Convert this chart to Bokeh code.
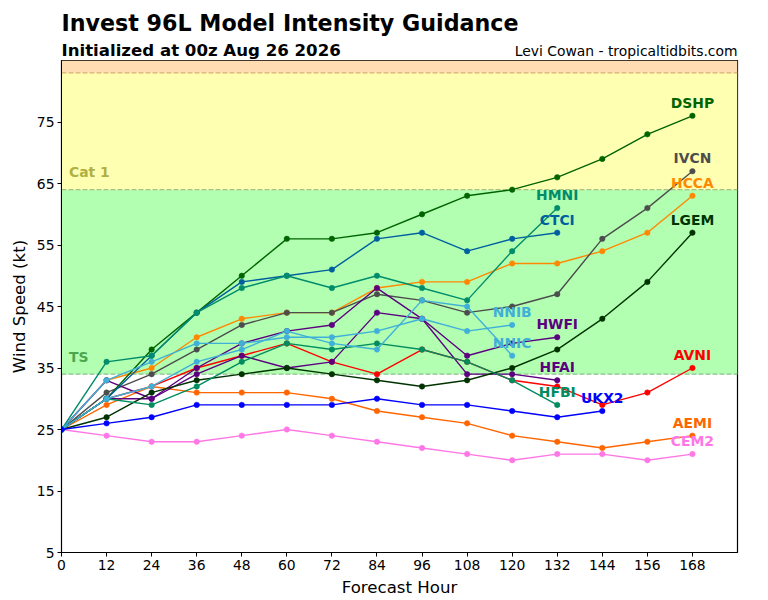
from bokeh.plotting import figure
from bokeh.layouts import column
from bokeh.models import Label, BoxAnnotation, Span, FixedTicker, Range1d
from bokeh.core.properties import value
from bokeh.embed import file_html
from bokeh.resources import INLINE

hours = [0, 12, 24, 36, 48, 60, 72, 84, 96, 108, 120, 132, 144, 156, 168]
AVNI = [25, 30, 32, 35, 37, 39, 36, 34, 38, 36, 33, 32, 29, 31, 35]
CEM2 = [25, 24, 23, 23, 24, 25, 24, 23, 22, 21, 20, 21, 21, 20, 21]
AEMI = [25, 29, 32, 31, 31, 31, 30, 28, 27, 26, 24, 23, 22, 23, 24]
HCCA = [25, 33, 35, 40, 43, 44, 44, 48, 49, 49, 52, 52, 54, 57, 63]
IVCN = [25, 31, 34, 38, 42, 44, 44, 47, 46, 44, 45, 47, 56, 61, 67]
HWFI = [25, 33, 30, 35, 39, 41, 42, 48, 43, 37, 39, 40]
HFAI = [25, 30, 30, 34, 37, 35, 36, 44, 43, 34, 34, 33]
LGEM = [25, 27, 31, 33, 34, 35, 34, 33, 32, 33, 35, 38, 43, 49, 57]
DSHP = [25, 30, 38, 44, 50, 56, 56, 57, 60, 63, 64, 66, 69, 73, 76]
CTCI = [25, 30, 37, 44, 49, 50, 51, 56, 57, 54, 56, 57]
HMNI = [25, 36, 37, 44, 48, 50, 48, 50, 48, 46, 54, 61]
HFBI = [25, 30, 29, 32, 36, 39, 38, 39, 38, 36, 33, 29]
NNIB = [25, 33, 36, 39, 39, 40, 40, 41, 43, 41, 42]
NNIC = [25, 30, 32, 36, 38, 41, 39, 38, 46, 45, 37]
UKX2 = [25, 26, 27, 29, 29, 29, 29, 30, 29, 29, 28, 27, 28]

models = [
    ("AVNI", AVNI, "#ff0000"), ("CEM2", CEM2, "#ff77e6"), ("AEMI", AEMI, "#ff6600"),
    ("HCCA", HCCA, "#ff8800"), ("IVCN", IVCN, "#4d4d4d"), ("HWFI", HWFI, "#5c0080"),
    ("HFAI", HFAI, "#5c0080"), ("LGEM", LGEM, "#003300"), ("DSHP", DSHP, "#006400"),
    ("CTCI", CTCI, "#005f9f"), ("HMNI", HMNI, "#008c6a"), ("HFBI", HFBI, "#008c5f"),
    ("NNIB", NNIB, "#40b0d8"), ("NNIC", NNIC, "#40b0d8"), ("UKX2", UKX2, "#0000ff"),
]

x_ticks = hours
y_ticks = [5, 15, 25, 35, 45, 55, 65, 75]
FONT = "DejaVu Sans"

head = figure(frame_width=676, frame_height=60, output_backend="svg", toolbar_location=None, title=None,
              x_range=Range1d(61, 737), y_range=Range1d(60, 0), x_axis_location=None, y_axis_location=None,
              min_border_left=61, min_border_right=23, min_border_top=0, min_border_bottom=0)
head.grid.visible = False
head.outline_line_color = None

def add_head(txt, sx, sy, size, bold, align="left"):
    head.text([sx], [sy], text=[txt], text_font=value(FONT), text_font_size=size,
              text_font_style="bold" if bold else "normal", text_color="black",
              text_align=align, text_baseline="middle")

add_head("Invest 96L Model Intensity Guidance", 61, 22, "22.2px", True)
add_head("Initialized at 00z Aug 26 2026", 61, 49.7, "16.6px", True)
add_head("Levi Cowan - tropicaltidbits.com", 737, 50.6, "13.9px", False, "right")

p = figure(frame_width=676, frame_height=492, output_backend="svg", toolbar_location=None, title=None,
           x_range=Range1d(0, 180), y_range=Range1d(5, 85),
           min_border_left=61, min_border_right=23, min_border_top=0, min_border_bottom=47)
p.grid.visible = False
p.outline_line_color = "black"
p.outline_line_width = 1.2

p.add_layout(BoxAnnotation(bottom=34, top=64, fill_color="#b2ffb2", fill_alpha=1, line_alpha=0, level="underlay"))
p.add_layout(BoxAnnotation(bottom=64, top=83, fill_color="#ffffb2", fill_alpha=1, line_alpha=0, level="underlay"))
p.add_layout(BoxAnnotation(bottom=83, top=85, fill_color="#ffdcb2", fill_alpha=1, line_alpha=0, level="underlay"))
for lvl, col in [(34, "#8fbf8f"), (64, "#a8c080"), (83, "#d8b070")]:
    p.add_layout(Span(location=lvl, dimension="width", line_color=col, line_width=1.2,
                      line_dash=[5, 2], level="underlay"))

for axis, ticks, lab in [(p.xaxis, x_ticks, "Forecast Hour"), (p.yaxis, y_ticks, "Wind Speed (kt)")]:
    axis.ticker = FixedTicker(ticks=ticks)
    axis.axis_label = lab
    axis.axis_label_text_font = FONT
    axis.axis_label_text_font_size = "16.6px"
    axis.axis_label_text_font_style = "normal"
    axis.axis_label_text_color = "black"
    axis.major_label_text_font = FONT
    axis.major_label_text_font_size = "13.9px"
    axis.major_label_text_color = "black"
    axis.major_tick_in = 0
    axis.major_tick_out = 4
    axis.minor_tick_line_color = None
    axis.axis_line_color = "black"
    axis.major_tick_line_color = "black"
p.xaxis.axis_label_standoff = 5
p.yaxis.axis_label_standoff = 5
p.xaxis.major_label_standoff = 3
p.yaxis.major_label_standoff = 3

for name, vals, col in models:
    xs = hours[:len(vals)]
    p.line(xs, vals, line_color=col, line_width=1.4)
    p.scatter(xs, vals, size=5.5, fill_color=col, line_color=col, line_width=0.5)

for name, vals, col in models:
    p.text([hours[len(vals) - 1]], [vals[-1]], text=[name], text_color=col, text_font=value(FONT),
           text_font_size="13.9px", text_font_style="bold", text_align="center",
           text_baseline="middle", y_offset=-13)

for txt, xv, yv, col in [("TS", 2, 36.8, "#4ca64c"), ("Cat 1", 2, 66.8, "#b0b040")]:
    p.add_layout(Label(x=xv, y=yv, text=txt, text_color=col, text_font=FONT, text_font_size="13.9px",
                       text_font_style="bold", text_baseline="middle"))

open("out.html", "w").write(file_html(column(head, p, spacing=0), INLINE))
